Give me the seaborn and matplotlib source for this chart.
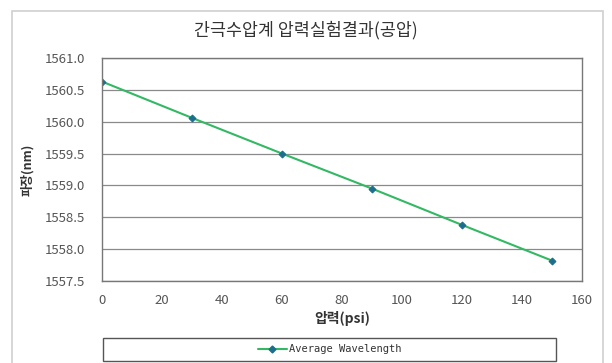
import matplotlib
matplotlib.use("Agg")
import matplotlib.pyplot as plt
import seaborn as sns
import pandas as pd
from matplotlib.patches import Rectangle
from matplotlib.lines import Line2D

pressure = [0, 30, 60, 90, 120, 150]
wavelength = [1560.63, 1560.06, 1559.50, 1558.95, 1558.38, 1557.82]
series_name = "Average Wavelength"
title = "간극수압계 압력실험결과(공압)"
xlabel = "압력(psi)"
ylabel = "파장(nm)"
yticks = [1557.5, 1558.0, 1558.5, 1559.0, 1559.5, 1560.0, 1560.5, 1561.0]
xticks = [0, 20, 40, 60, 80, 100, 120, 140, 160]

sns.set_style("white")
plt.rcParams['font.family'] = ['Noto Sans CJK KR', 'DejaVu Sans']

df = pd.DataFrame({"x": pressure, "y": wavelength, "s": series_name})

fig = plt.figure(figsize=(6.12, 3.63), dpi=100)
fig.patch.set_facecolor("white")
fig.add_artist(Rectangle((12/612, -0.05), (603-12)/612, 1.05 - 11/363,
                         transform=fig.transFigure, fill=False,
                         edgecolor="#d0d0d0", linewidth=1.2))
ax = fig.add_axes([102/612, 1-281/363, 480/612, 223/363])

sns.lineplot(data=df, x="x", y="y", hue="s", palette=["#33b864"], marker="D",
             markersize=3.5, markerfacecolor="#1c6e8c", markeredgecolor="#1c6e8c",
             linewidth=1.5, ax=ax, legend=False)

ax.set_xlim(0, 160)
ax.set_ylim(1557.5, 1561.0)
ax.set_xticks(xticks)
ax.set_yticks(yticks)
ax.set_yticklabels([f"{v:.1f}" for v in yticks])
ax.yaxis.grid(True, color="#8a8a8a", linewidth=0.9)
ax.xaxis.grid(False)
for s in ax.spines.values():
    s.set_color("#777777")
    s.set_linewidth(1.0)
ax.tick_params(axis="both", direction="out", length=3, width=0.9, color="#555555",
               labelsize=9.5, labelcolor="#555555")
ax.tick_params(axis="x", pad=6)
ax.tick_params(axis="y", pad=9)
ax.set_xlabel(xlabel, fontsize=10, fontweight="bold", color="#333333", labelpad=3)
ax.set_ylabel(ylabel, fontsize=9, fontweight="bold", color="#333333", labelpad=8)

fig.text(0.5, 1-30/363, title, ha="center", va="center", fontsize=12.5,
         color="#333333")

# legend box
fig.add_artist(Rectangle((103/612, 1-361/363), (556-103)/612, 23/363,
                         transform=fig.transFigure, fill=True, facecolor="white",
                         edgecolor="#555555", linewidth=1.0))
h = Line2D([], [], color="#33b864", linewidth=1.5, marker="D", markersize=3.5,
           markerfacecolor="#1c6e8c", markeredgecolor="#1c6e8c")
leg = fig.legend([h], [series_name], loc="center",
                 bbox_to_anchor=(329.5/612, 1-349.5/363),
                 frameon=False, handlelength=2.8, handletextpad=0.2,
                 prop={"family": "DejaVu Sans Mono", "size": 7.5})
for t in leg.get_texts():
    t.set_color("#333333")

fig.savefig("out.png", dpi=100)
